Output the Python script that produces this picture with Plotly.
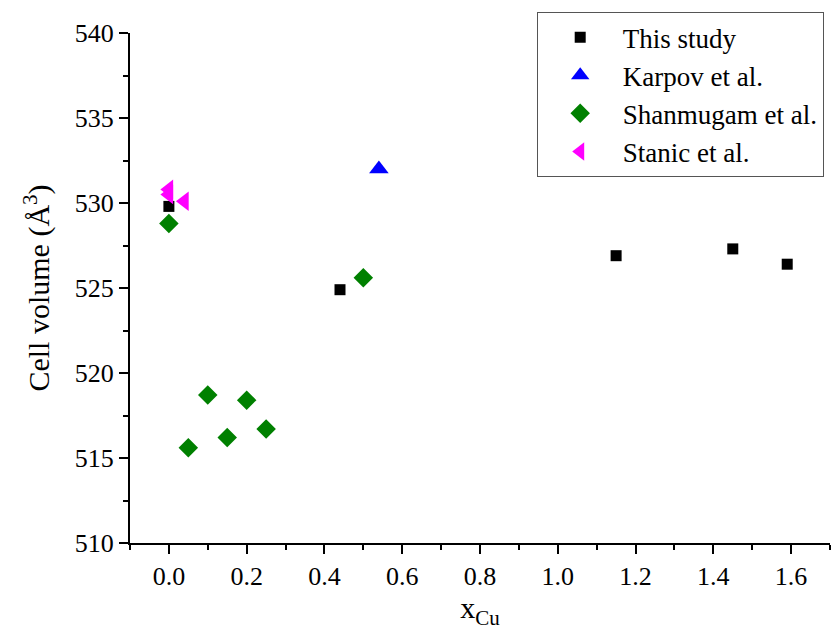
import plotly.graph_objects as go

# Data
this_x = [0.0, 0.44, 1.15, 1.45, 1.59]
this_y = [529.8, 524.9, 526.9, 527.3, 526.4]

karpov_x = [0.54]
karpov_y = [532.0]

shan_x = [0.0, 0.05, 0.10, 0.15, 0.20, 0.25, 0.50]
shan_y = [528.8, 515.6, 518.7, 516.2, 518.4, 516.7, 525.6]

stanic_x = [0.0, 0.0, 0.04]
stanic_y = [530.8, 530.5, 530.1]

FONT = "Times New Roman, Liberation Serif, serif"

fig = go.Figure()
fig.add_trace(go.Scatter(x=this_x, y=this_y, mode="markers", name="This study",
                         marker=dict(symbol="square", size=11, color="black")))
fig.add_trace(go.Scatter(x=karpov_x, y=karpov_y, mode="markers", name="Karpov et al.",
                         marker=dict(symbol="triangle-up", size=17, color="#0000ff")))
fig.add_trace(go.Scatter(x=shan_x, y=shan_y, mode="markers", name="Shanmugam et al.",
                         marker=dict(symbol="diamond", size=15, color="#008000")))
fig.add_trace(go.Scatter(x=stanic_x, y=stanic_y, mode="markers", name="Stanic et al.",
                         marker=dict(symbol="triangle-left", size=17, color="#ff00ff")))

fig.update_layout(
    width=832, height=630,
    margin=dict(l=130, r=2, t=33, b=87),
    paper_bgcolor="white", plot_bgcolor="white",
    font=dict(family=FONT, size=26, color="black"),
    showlegend=True,
    legend=dict(x=0.581, y=1.041, xanchor="left", yanchor="top",
                bordercolor="#555555", borderwidth=1, bgcolor="white",
                font=dict(family=FONT, size=27), itemwidth=75,
                tracegroupgap=0),
)
fig.update_xaxes(range=[-0.1, 1.7], tick0=0, dtick=0.2, tickformat=".1f",
                 tickfont=dict(family=FONT, size=26, color="black"),
                 showgrid=False, zeroline=False, showline=True, linecolor="black",
                 linewidth=2, ticks="outside", ticklen=9, tickwidth=2, tickcolor="black",
                 minor=dict(dtick=0.1, tick0=0, ticks="outside", ticklen=5, tickwidth=2,
                            tickcolor="black", showgrid=False),
                 title=dict(text="x<sub>Cu</sub>", font=dict(family=FONT, size=30), standoff=6))
fig.update_yaxes(range=[510, 540], tick0=510, dtick=5,
                 tickfont=dict(family=FONT, size=26, color="black"),
                 showgrid=False, zeroline=False, showline=True, linecolor="black",
                 linewidth=2, ticks="outside", ticklen=9, tickwidth=2, tickcolor="black",
                 minor=dict(dtick=2.5, ticks="outside", ticklen=5, tickwidth=2,
                            tickcolor="black", showgrid=False),
                 title=dict(text="Cell volume (Å<sup>3</sup>)", font=dict(family=FONT, size=30), standoff=16))

fig.write_html("out.html")
